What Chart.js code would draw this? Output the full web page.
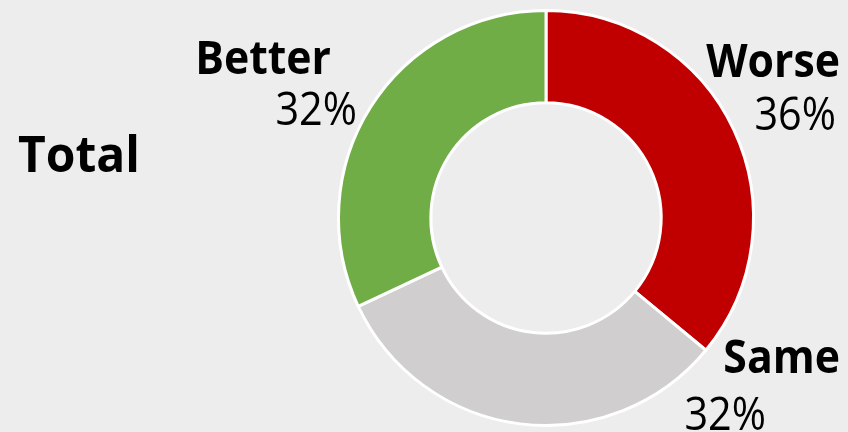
<!DOCTYPE html>
<html>
<head>
<meta charset="utf-8">
<script src="https://cdn.jsdelivr.net/npm/chart.js@4"></script>
<style>
  html, body { margin: 0; padding: 0; background: #EDEDED; }
  #wrap { width: 848px; height: 432px; position: relative; }
</style>
</head>
<body>
<div id="wrap"><canvas id="donutChart"></canvas></div>
<script>
// data
const categories = ["Worse", "Same", "Better"];
const shares = [36, 32, 32];
const colors = ["#C00000", "#D0CECE", "#70AD47"];
const title = "Total";

// label anchors (right edge, baselines) for name and percent lines
const nameSpots = [[840, 77], [840, 373], [331, 74]];
const pctSpots = [[836, 130], [766, 430], [357, 125]];

const FONT = "'Open Sans', 'Noto Sans', sans-serif";
const SQUASH = 0.93;

function drawSquashed(ctx, text, x, y, sx) {
  ctx.save();
  ctx.translate(x, y);
  ctx.scale(sx, 1);
  ctx.fillText(text, 0, 0);
  ctx.restore();
}

const labelPlugin = {
  id: "donutLabels",
  afterDraw(chart) {
    const ctx = chart.ctx;
    ctx.save();
    ctx.fillStyle = "#000";
    ctx.textBaseline = "alphabetic";

    ctx.font = "bold 50px " + FONT;
    ctx.textAlign = "left";
    drawSquashed(ctx, title, 18, 172, 0.96);

    const total = shares.reduce((a, b) => a + b, 0);
    ctx.textAlign = "right";
    categories.forEach((name, i) => {
      ctx.font = "bold 46px " + FONT;
      drawSquashed(ctx, name, nameSpots[i][0], nameSpots[i][1], SQUASH);
      ctx.font = "46px " + FONT;
      const pct = Math.round(shares[i] / total * 100) + "%";
      drawSquashed(ctx, pct, pctSpots[i][0], pctSpots[i][1], 0.9);
    });
    ctx.restore();
  }
};

const ctx = document.getElementById("donutChart").getContext("2d");
new Chart(ctx, {
  type: "doughnut",
  data: {
    labels: categories,
    datasets: [{
      data: shares,
      backgroundColor: colors,
      borderColor: "#FFFFFF",
      borderWidth: 3,
    }],
  },
  options: {
    responsive: true,
    maintainAspectRatio: false,
    animation: false,
    cutout: "55.5%",
    layout: { padding: { left: 337, right: 93, top: 8, bottom: 4 } },
    plugins: {
      legend: { display: false },
      tooltip: { enabled: false },
    },
  },
  plugins: [labelPlugin],
});
</script>
</body>
</html>
